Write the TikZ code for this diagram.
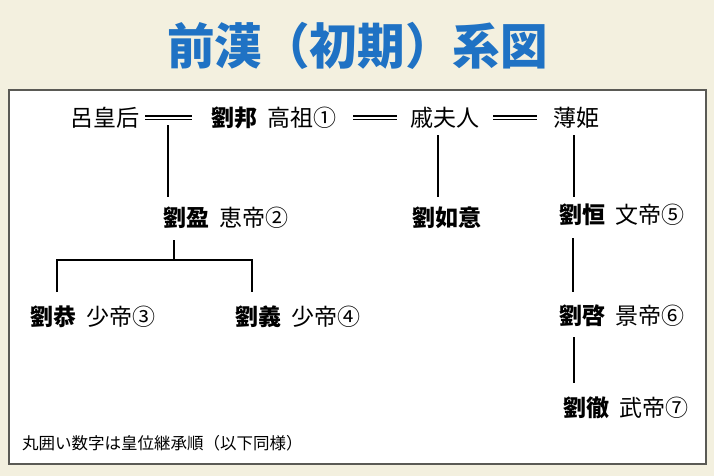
\documentclass[tikz,border=0pt]{standalone}
\usepackage{fontspec}
\newfontfamily\jp{Noto Sans CJK JP}
\definecolor{bgcream}{HTML}{F3F0DF}
\definecolor{titleblue}{HTML}{1F72C4}
\definecolor{boxgray}{HTML}{5A5A55}
\newcommand{\gp}{\hspace{0.45em}}
\begin{document}
\begin{tikzpicture}[x=1pt,y=-1pt,
  person/.style={anchor=west,inner sep=0pt,font=\jp\fontsize{23}{24}\selectfont},
  marriage/.style={draw=black,double=white,double distance=2.2pt,line width=1.4pt},
  descent/.style={draw=black,line width=2.5pt},
  title/.style={font=\jp\bfseries\fontsize{49}{52}\selectfont,text=titleblue},
  note/.style={anchor=west,inner sep=0pt,font=\jp\fontsize{16.5}{18}\selectfont}]
\fill[bgcream] (0,0) rectangle (714,476);
\useasboundingbox (0,0) rectangle (714,476);
\node[title,xscale=0.97] (ttl) at (357.5,45.5) {前漢（初期）系図};
\draw[boxgray,line width=2pt,fill=white] (9,90) rectangle (706,464);
% generation 1
\node[person] (lv) at (70,118) {呂皇后};
\node[person] (lb) at (211,118) {\textbf{劉邦}\gp 高祖①};
\node[person] (qf) at (410,118) {戚夫人};
\node[person] (bj) at (553,118) {薄姫};
% generation 2
\node[person] (ly) at (163,218) {\textbf{劉盈}\gp 恵帝②};
\node[person] (lr) at (412,218) {\textbf{劉如意}};
\node[person] (lh) at (559,215) {\textbf{劉恒}\gp 文帝⑤};
% generation 3
\node[person] (lg) at (30,317) {\textbf{劉恭}\gp 少帝③};
\node[person] (lyi) at (235,317) {\textbf{劉義}\gp 少帝④};
\node[person] (lq) at (559,316) {\textbf{劉啓}\gp 景帝⑥};
\node[person] (lc) at (563,408) {\textbf{劉徹}\gp 武帝⑦};
\node[note] (nt) at (22,443) {丸囲い数字は皇位継承順（以下同様）};
% marriages
\coordinate (m1a) at (145,118);
\coordinate (m1b) at (192,118);
\coordinate (m2a) at (353,118);
\coordinate (m2b) at (397,118);
\coordinate (m3a) at (493,118);
\coordinate (m3b) at (537,118);
\draw[marriage] (m1a) -- (m1b);
\draw[marriage] (m2a) -- (m2b);
\draw[marriage] (m3a) -- (m3b);
% descent lines
\coordinate (d1t) at (168,125);
\coordinate (d1b) at (168,197);
\draw[descent] (d1t) -- (d1b);
\coordinate (d2t) at (438,135);
\coordinate (d2b) at (438,197);
\draw[descent] (d2t) -- (d2b);
\coordinate (d3t) at (574,135);
\coordinate (d3b) at (574,197);
\draw[descent] (d3t) -- (d3b);
\coordinate (s1) at (174,240);
\coordinate (s1m) at (174,260);
\coordinate (s1l) at (57,292);
\coordinate (s1r) at (252,292);
\draw[descent] (s1) -- (s1m);
\draw[descent,line join=miter] (s1l) -- (s1l |- s1m) -- (s1r |- s1m) -- (s1r);
\coordinate (d4t) at (573,238);
\coordinate (d4b) at (573,292);
\draw[descent] (d4t) -- (d4b);
\coordinate (d5t) at (574,337);
\coordinate (d5b) at (574,383);
\draw[descent] (d5t) -- (d5b);
\end{tikzpicture}
\end{document}
